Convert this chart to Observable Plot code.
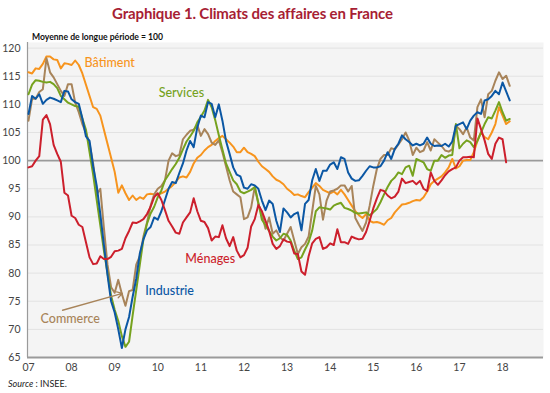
<!DOCTYPE html>
<html>
<head>
<meta charset="utf-8">
<script src="https://cdn.jsdelivr.net/npm/d3@7"></script>
<script src="https://cdn.jsdelivr.net/npm/@observablehq/plot@0.6"></script>
<style>
  html, body { margin: 0; padding: 0; background: #fff; }
  #wrap { position: relative; width: 550px; height: 393px; overflow: hidden; }
  #title { position: absolute; left: 0; top: 4px; width: 505px; text-align: center;
           font: 700 15px Lato, "Open Sans", sans-serif; letter-spacing: -0.15px; color: #a71e34; }
  #subtitle { position: absolute; left: 32px; top: 32px;
           font: 700 8.6px Lato, "Open Sans", sans-serif; color: #111; }
  #source { position: absolute; left: 8px; top: 378px;
           font: 400 9px Lato, "Open Sans", sans-serif; color: #222; }
  #chart { position: absolute; left: 0; top: 0; }
</style>
</head>
<body>
<div id="wrap">
  <div id="chart"></div>
  <div id="title">Graphique 1. Climats des affaires en France</div>
  <div id="subtitle">Moyenne de longue période = 100</div>
  <div id="source"><i>Source</i> : INSEE.</div>
</div>
<script>
// Monthly values, January 2007 onwards (one row per year)
const batiment = [
  115.7, 115.5, 116.4, 116.3, 117.2, 118.5, 118.5, 118.0, 117.9, 116.4, 117.3, 117.2,
  117.0, 117.8, 117.0, 115.5, 113.5, 111.5, 109.5, 109.2, 108.0, 105.5, 103.0, 100.5,
  98.0, 94.3, 95.6, 94.2, 93.0, 93.8, 93.0, 93.5, 93.2, 94.0, 94.1, 94.0,
  94.0, 94.2, 94.5, 95.0, 95.5, 96.2, 97.0, 97.2, 97.0, 98.0, 99.5, 100.5,
  101.0, 101.8, 102.4, 102.8, 103.5, 104.0, 104.4, 103.8, 103.2, 102.5, 101.5, 101.5,
  102.3, 101.5, 101.2, 100.8, 99.8, 99.0, 98.5, 98.0, 97.2, 96.6, 96.3, 95.8,
  95.0, 94.5, 93.9, 94.0, 93.7, 93.5, 94.4, 95.2, 96.0, 95.5, 94.8, 94.5,
  94.2, 94.5, 94.0, 94.8, 94.0, 93.0, 92.0, 91.0, 90.3, 89.8, 90.5, 89.3,
  89.0, 89.1, 88.9, 88.6, 89.4, 89.8, 90.8, 91.5, 92.2, 92.3, 92.5, 92.8,
  93.0, 92.9, 93.5, 94.5, 95.8, 96.4, 96.8, 97.2, 97.9, 98.8, 100.3, 98.6,
  99.0, 100.0, 100.1, 100.1, 101.5, 103.5, 105.0, 104.2, 103.8, 105.0, 106.5, 109.5,
  108.0, 106.5, 107.0
];
const services = [
  111.8, 113.5, 114.3, 114.2, 114.0, 113.9, 114.0, 113.6, 112.9, 111.5, 110.9, 110.3,
  110.0, 109.7, 109.6, 107.5, 105.5, 101.5, 97.5, 93.0, 88.5, 84.0, 80.0, 76.0,
  73.5, 71.5, 68.8, 66.9, 67.8, 72.5, 77.0, 81.5, 86.0, 88.8, 90.6, 91.8,
  93.5, 94.7, 96.5, 97.5, 98.5, 99.4, 100.5, 102.0, 103.4, 104.3, 105.3, 106.8,
  107.8, 108.9, 110.8, 109.5, 107.2, 104.5, 102.0, 99.5, 98.0, 96.5, 95.8, 94.5,
  94.2, 94.5, 94.8, 95.3, 92.5, 89.5, 88.5, 87.5, 86.5, 85.8, 86.2, 87.0,
  86.8, 85.8, 84.0, 82.5, 82.8, 84.2, 85.5, 87.6, 91.0, 91.7, 91.6, 91.5,
  91.3, 92.0, 92.3, 92.5, 91.6, 91.4, 91.1, 90.7, 90.6, 90.7, 90.8, 90.3,
  90.8, 91.4, 92.6, 94.0, 95.3, 96.4, 97.0, 97.9, 97.6, 98.8, 99.1, 97.3,
  100.3, 100.0, 99.7, 98.5, 98.2, 100.0, 100.0, 101.0, 100.5, 100.9, 101.0, 106.5,
  102.2, 103.0, 103.6, 103.3, 102.4, 103.5, 105.0, 106.5, 107.7, 107.5, 108.9, 110.4,
  108.6, 107.1, 107.4
];
const industrie = [
  108.3, 111.5, 111.0, 111.8, 110.1, 110.8, 111.2, 111.0, 110.7, 110.4, 112.4, 112.3,
  110.9, 110.4, 110.1, 107.5, 104.3, 103.5, 99.0, 95.5, 90.5, 85.0, 79.7, 75.0,
  73.0, 70.0, 66.7, 70.0, 72.2, 75.8, 79.0, 83.5, 86.0, 87.6, 88.2, 89.9,
  89.5, 91.0, 93.0, 95.0, 96.2, 96.0, 97.8, 99.5, 101.8, 103.5, 102.4, 105.9,
  108.0, 107.7, 110.4, 110.1, 107.7, 110.0, 107.1, 103.5, 101.2, 98.8, 97.5, 97.2,
  95.2, 95.0, 95.8, 95.6, 95.0, 92.9, 91.2, 92.9, 92.3, 89.3, 87.3, 91.5,
  90.8, 89.9, 90.5, 90.8, 87.6, 92.3, 93.0, 96.5, 98.5, 96.4, 98.2, 98.2,
  99.3, 99.7, 98.5, 100.6, 100.3, 97.9, 96.8, 96.4, 96.5, 97.3, 98.2, 99.0,
  98.8, 98.8, 99.0, 100.0, 101.5, 100.3, 102.1, 103.0, 104.5, 103.8, 103.3, 102.7,
  103.0, 102.7, 103.0, 104.1, 103.0, 102.6, 102.7, 102.6, 103.0, 102.5, 103.4, 106.2,
  106.5, 106.8, 105.6, 107.1, 108.0, 108.6, 108.3, 110.7, 110.9, 111.5, 112.4, 111.8,
  113.9, 112.3, 110.7
];
const commerce = [
  107.1, 111.0, 111.0, 112.2, 112.7, 118.2, 115.7, 114.8, 113.6, 112.4, 111.5, 113.6,
  113.6, 110.3, 108.6, 106.5, 105.0, 103.0, 99.5, 94.0, 95.0, 88.0, 81.5, 77.5,
  76.5, 78.8, 76.3, 74.2, 76.8, 77.0, 81.5, 83.0, 86.5, 89.0, 92.0, 94.0,
  95.0, 95.5, 96.5, 100.0, 101.3, 100.8, 101.0, 103.8, 104.6, 105.3, 105.5, 106.3,
  104.4, 105.6, 104.7, 103.2, 102.8, 103.6, 101.5, 99.0, 96.5, 94.5, 94.0, 93.5,
  89.6, 89.9, 91.7, 95.3, 92.3, 90.5, 87.9, 89.9, 87.0, 87.6, 86.4, 85.8,
  87.0, 88.2, 85.8, 83.4, 84.6, 85.2, 86.5, 91.0, 95.5, 94.0, 89.5, 92.9,
  94.5, 94.7, 95.0, 95.6, 95.6, 94.5, 95.5, 89.8, 88.6, 87.5, 89.0, 92.0,
  95.5, 98.5, 100.3, 101.0, 101.0, 102.2, 102.0, 102.9, 103.8, 105.0, 103.6, 101.0,
  102.3, 101.5, 101.8, 103.3, 101.8, 103.8, 103.2, 102.6, 101.8, 101.6, 102.0, 106.2,
  105.6, 104.7, 105.9, 104.1, 103.6, 109.5, 110.9, 107.7, 111.8, 112.4, 114.2, 115.7,
  114.5, 115.1, 113.3
];
const menages = [
  98.8, 99.0, 100.0, 100.8, 107.3, 108.1, 106.5, 102.8, 101.2, 99.8, 94.3, 93.8,
  90.2, 89.8, 88.6, 88.2, 85.5, 82.8, 81.6, 81.7, 83.0, 82.5, 82.5, 82.9,
  83.9, 84.0, 84.3, 86.2, 87.5, 89.0, 88.9, 89.2, 89.6, 90.5, 91.8, 93.5,
  94.2, 93.0, 91.2, 89.3, 88.3, 87.2, 87.0, 89.0, 89.9, 90.8, 93.3, 91.0,
  89.3, 89.1, 88.0, 85.8, 86.5, 86.4, 88.5, 86.2, 84.8, 86.4, 84.0, 82.8,
  83.2, 84.5, 88.3, 89.6, 92.1, 91.0, 89.3, 87.5, 85.2, 84.3, 84.8, 86.0,
  85.6, 85.5, 83.5, 83.4, 80.3, 79.7, 83.0, 85.3, 86.1, 86.4, 84.3, 84.6,
  85.3, 85.0, 87.8, 85.5, 85.5, 85.2, 86.5, 86.2, 86.0, 86.1, 87.3, 89.3,
  91.5, 93.3, 94.8, 94.6, 93.8, 93.3, 93.6, 94.5, 96.8, 96.0, 96.2, 96.4,
  95.8, 96.4, 95.0, 94.6, 97.9, 96.4, 95.7, 96.5, 97.4, 98.1, 98.5, 98.8,
  100.0, 100.6, 100.6, 100.7, 100.6, 107.5, 105.6, 103.6, 101.2, 100.3, 103.0, 104.1,
  103.8, 99.7
];

const seriesNames = ["Bâtiment", "Commerce", "Services", "Industrie", "Ménages"];
const seriesValues = [batiment, commerce, services, industrie, menages];
const seriesColors = ["#f7941d", "#a8845a", "#76a21e", "#0b57a4", "#cc1f2c"];

const yearTicks = [2007, 2008, 2009, 2010, 2011, 2012, 2013, 2014, 2015, 2016, 2017, 2018];
const yearLabels = ["07", "08", "09", "10", "11", "12", "13", "14", "15", "16", "17", "18"];
const yTicks = [65, 70, 75, 80, 85, 90, 95, 100, 105, 110, 115, 120];
const startYear = 2007;

// Annotation placement (label anchors, in data units)
const labelNames = ["Bâtiment", "Services", "Industrie", "Ménages", "Commerce"];
const labelX = [2008.30, 2010.02, 2009.71, 2010.64, 2007.28];
const labelY = [117.3, 112.1, 76.9, 82.6, 71.8];
const arrowFrom = [2007.79, 73.4];
const arrowTo = [2009.18, 76.4];

const colorOf = Object.fromEntries(seriesNames.map((n, k) => [n, seriesColors[k]]));
const rows = seriesNames.flatMap((name, k) =>
  seriesValues[k].map((v, i) => ({ series: name, t: startYear + i / 12, v }))
);
const labels = labelNames.map((n, k) => ({ name: n, x: labelX[k], y: labelY[k] }));
const xDomain = [2006.977, 2018.95];

const chart = Plot.plot({
  width: 550,
  height: 393,
  marginTop: 42,
  marginBottom: 36,
  marginLeft: 27,
  marginRight: 7,
  style: { fontFamily: "Lato, 'Open Sans', sans-serif", fontSize: "10.5px", color: "#444", background: "transparent" },
  x: { domain: xDomain, ticks: yearTicks, tickFormat: d => yearLabels[yearTicks.indexOf(d)], tickSize: 0, tickPadding: 6, label: null },
  y: { domain: [65, 121], ticks: yTicks, tickSize: 0, tickPadding: 7, label: null },
  marks: [
    Plot.frame({ fill: "#f4f4f4", stroke: null }),
    Plot.ruleY(yTicks.filter(d => d !== 100 && d !== 65), { stroke: "#e2e2e2", strokeWidth: 1 }),
    Plot.ruleY([100], { stroke: "#9a9a9a", strokeWidth: 1.6 }),
    Plot.ruleX([xDomain[0]], { stroke: "#9a9a9a", strokeWidth: 1.2 }),
    Plot.ruleY([65], { stroke: "#9a9a9a", strokeWidth: 2 }),
    Plot.line(rows, { x: "t", y: "v", z: "series", stroke: d => colorOf[d.series], strokeWidth: 2, strokeLinejoin: "round" }),
    Plot.arrow([{ x1: arrowFrom[0], y1: arrowFrom[1], x2: arrowTo[0], y2: arrowTo[1] }],
      { x1: "x1", y1: "y1", x2: "x2", y2: "y2", stroke: "#a8845a", strokeWidth: 1.3, headLength: 7, bend: 0 }),
    Plot.text(labels, { x: "x", y: "y", text: "name", fill: d => colorOf[d.name], textAnchor: "start",
      fontSize: 12.5, fontWeight: 500 })
  ]
});
document.getElementById("chart").appendChild(chart);
</script>
</body>
</html>
